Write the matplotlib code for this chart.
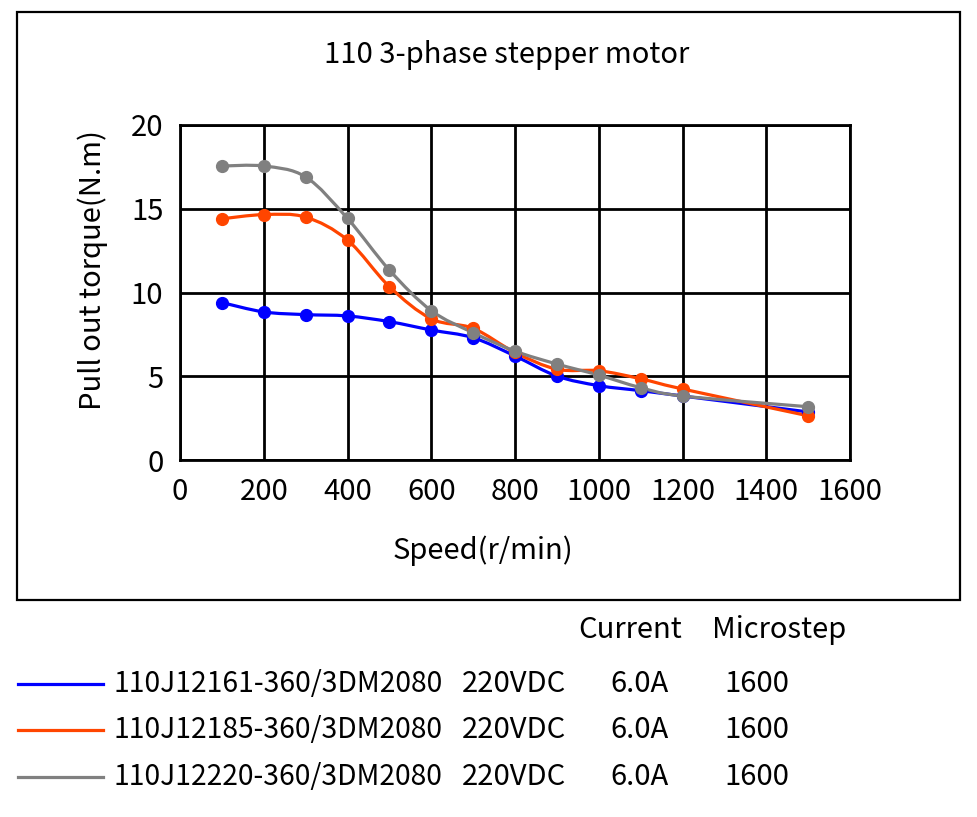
import matplotlib
matplotlib.use("Agg")
import matplotlib.pyplot as plt
from matplotlib.path import Path
from matplotlib.patches import PathPatch, Rectangle
from matplotlib.lines import Line2D

plt.rcParams['font.family'] = ['Noto Sans CJK SC', 'DejaVu Sans']

# datos
speed = [100, 200, 300, 400, 500, 600, 700, 800, 900, 1000, 1100, 1200, 1500]
torque_161 = [9.4, 8.84, 8.68, 8.6, 8.26, 7.76, 7.3, 6.21, 5.01, 4.44, 4.14, 3.82, 2.87]
torque_185 = [14.4, 14.65, 14.5, 13.13, 10.35, 8.43, 7.86, 6.42, 5.42, 5.33, 4.85, 4.24, 2.64]
torque_220 = [17.55, 17.55, 16.9, 14.42, 11.34, 8.92, 7.6, 6.5, 5.73, 5.07, 4.32, 3.82, 3.18]

names = ["110J12161-360/3DM2080", "110J12185-360/3DM2080", "110J12220-360/3DM2080"]
voltage = ["220VDC", "220VDC", "220VDC"]
current = ["6.0A", "6.0A", "6.0A"]
microstep = ["1600", "1600", "1600"]
colors = ["#0000FF", "#FF4500", "#808080"]

W, H = 977, 817
FS = 21
fig = plt.figure(figsize=(W / 100, H / 100), dpi=100)
ax = fig.add_axes([180 / W, 1 - 460 / H, 670 / W, 335 / H])


def smooth_path(xs, ys):
    # curva tipo "linea suavizada" de Excel (Bezier)
    verts = [(xs[0], ys[0])]
    codes = [Path.MOVETO]
    n = len(xs)
    for i in range(n - 1):
        x0, y0 = (xs[i - 1], ys[i - 1]) if i > 0 else (xs[i], ys[i])
        x1, y1 = xs[i], ys[i]
        x2, y2 = xs[i + 1], ys[i + 1]
        x3, y3 = (xs[i + 2], ys[i + 2]) if i + 2 < n else (x2, y2)
        c1 = (x1 + (x2 - x0) / 6, y1 + (y2 - y0) / 6)
        c2 = (x2 - (x3 - x1) / 6, y2 - (y3 - y1) / 6)
        verts += [c1, c2, (x2, y2)]
        codes += [Path.CURVE4] * 3
    return Path(verts, codes)


series = [torque_161, torque_185, torque_220]
for ys, c in zip(series, colors):
    ax.add_patch(PathPatch(smooth_path(speed, ys), fill=False, edgecolor=c,
                           lw=2.3, zorder=3))
    ax.plot(speed, ys, 'o', color=c, markersize=8.5, zorder=4)

ax.set_xlim(0, 1600)
ax.set_ylim(0, 20)
ax.set_xticks(range(0, 1601, 200))
ax.set_yticks(range(0, 21, 5))
ax.grid(True, color="black", lw=2)
ax.tick_params(length=0, labelsize=FS, pad=12)
for s in ax.spines.values():
    s.set_linewidth(2)
ax.set_xlabel("Speed(r/min)", fontsize=FS)
ax.set_ylabel("Pull out torque(N.m)", fontsize=FS)
ax.xaxis.set_label_coords(0.452, -0.224)
ax.yaxis.set_label_coords(-0.108, 0.567)

fig.text(507 / W, 1 - 55 / H, "110 3-phase stepper motor", fontsize=FS,
         ha="center", va="center")

# marco del grafico
fig.add_artist(Rectangle((17 / W, 1 - 600 / H), 943 / W, 588 / H,
                         transform=fig.transFigure, fill=False,
                         edgecolor="black", lw=1.6))

# leyenda
fig.text(630 / W, 1 - 630 / H, "Current", fontsize=FS, ha="center", va="center")
fig.text(779 / W, 1 - 630 / H, "Microstep", fontsize=FS, ha="center", va="center")
rows_y = [684, 730, 777]
for i in range(3):
    y = 1 - rows_y[i] / H
    fig.add_artist(Line2D([18 / W, 103 / W], [y, y], color=colors[i], lw=2.3,
                          transform=fig.transFigure))
    fig.text(113 / W, y, names[i], fontsize=20.3, ha="left", va="center")
    fig.text(462 / W, y, voltage[i], fontsize=FS, ha="left", va="center")
    fig.text(640 / W, y, current[i], fontsize=FS, ha="center", va="center")
    fig.text(757 / W, y, microstep[i], fontsize=FS, ha="center", va="center")

fig.savefig("out.png", dpi=100)
